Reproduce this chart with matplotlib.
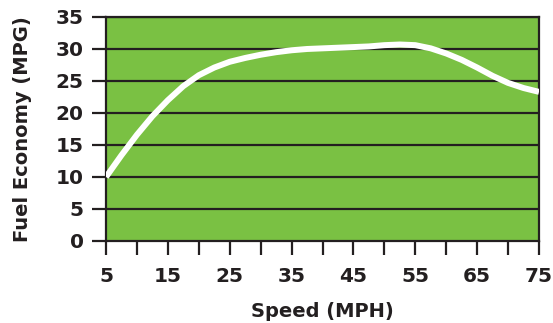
import matplotlib
matplotlib.use('Agg')
import matplotlib.pyplot as plt
from matplotlib.ticker import MultipleLocator

# speed (mph) vs fuel economy (mpg)
velocidade = [5, 7.5, 10, 12.5, 15, 17.5, 20, 22.5, 25, 27.5, 30, 32.5, 35, 37.5, 40,
              42.5, 45, 47.5, 50, 52.5, 55, 57.5, 60, 62.5, 65, 67.5, 70, 72.5, 75]
consumo = [10.0, 13.4, 16.6, 19.5, 22.0, 24.2, 25.9, 27.1, 28.0, 28.6, 29.1, 29.5, 29.8, 30.0, 30.1,
           30.2, 30.3, 30.4, 30.6, 30.7, 30.6, 30.1, 29.3, 28.3, 27.1, 25.8, 24.7, 23.9, 23.3]

ticks_x = [5, 15, 25, 35, 45, 55, 65, 75]
ticks_y = [0, 5, 10, 15, 20, 25, 30, 35]

fonte = 'DejaVu Sans'
cor_texto = '#231f20'

fig = plt.figure(figsize=(5.53, 3.23), dpi=100)
ax = fig.add_axes([0.1917, 0.2539, 0.7830, 0.6935])
ax.set_facecolor('#7ac143')

ax.set_xlim(5, 75)
ax.set_ylim(0, 35)
ax.set_xticks(ticks_x)
ax.xaxis.set_minor_locator(MultipleLocator(5))
ax.set_yticks(ticks_y)

for y in ticks_y[1:]:
    ax.axhline(y, color=cor_texto, lw=1.6, zorder=1)

ax.plot(velocidade, consumo, color='white', lw=4.3, solid_capstyle='butt', zorder=3, clip_on=True)

for lado in ['left', 'bottom', 'right', 'top']:
    ax.spines[lado].set_color(cor_texto)
    ax.spines[lado].set_linewidth(1.6)

ax.tick_params(axis='both', which='both', length=10, width=1.6, color=cor_texto,
               labelcolor=cor_texto)
ax.tick_params(axis='x', which='minor', length=10)
ax.tick_params(axis='x', pad=9)
ax.tick_params(axis='y', pad=6)

for rotulo in ax.get_xticklabels() + ax.get_yticklabels():
    rotulo.set_fontfamily(fonte)
    rotulo.set_fontweight('bold')
    rotulo.set_fontsize(14.5)

ax.set_xlabel('Speed (MPH)', fontsize=14, fontweight='bold', family=fonte,
              color=cor_texto, labelpad=11)
ax.set_ylabel('Fuel Economy (MPG)', fontsize=14, fontweight='bold', family=fonte,
              color=cor_texto, labelpad=17)

fig.savefig('out.png', dpi=100)
